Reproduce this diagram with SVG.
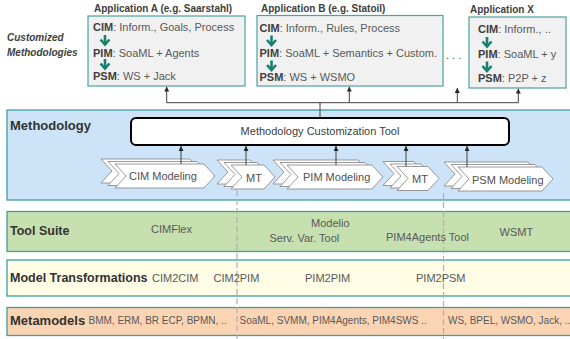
<svg xmlns="http://www.w3.org/2000/svg" width="570" height="339" viewBox="0 0 570 339">
  <style>
    text { font-family: "Liberation Sans", Arial, sans-serif; }
    .band { stroke: #3f9ea2; stroke-width: 1.3; }
    .app { fill: #f1f1f1; stroke: #4aa2a2; stroke-width: 1.2; }
    .apptitle { font-size: 10px; font-weight: bold; fill: #404040; }
    .line { font-size: 11px; fill: #595959; }
    .line tspan.k { font-weight: bold; fill: #404040; }
    .layer { font-weight: bold; fill: #333333; }
    .item { font-size: 11px; fill: #595959; }
    .meta { font-size: 10px; fill: #595959; }
    .chev { fill: #ffffff; stroke: #808080; stroke-width: 0.8; }
    .chevtxt { font-size: 11px; fill: #505050; }
    .conn { fill: none; stroke: #404040; stroke-width: 1; }
    .divider { stroke: #b0b0b0; stroke-width: 1.2; stroke-dasharray: 6 3; }
  </style>
  <defs>
    <marker id="tip" viewBox="0 0 10 10" refX="10" refY="5" markerUnits="userSpaceOnUse" markerWidth="5" markerHeight="5" orient="auto">
      <path d="M0,0 L10,5 L0,10 z" fill="#262626"/>
    </marker>
    <!-- refinement arrow between CIM / PIM / PSM -->
    <g id="down" fill="none" stroke="#17806f" stroke-width="2.6">
      <path d="M0,0 V9.5"/>
      <path d="M-4.5,4.5 L0,9.5 L4.5,4.5"/>
    </g>
    <!-- chevron outlines, front layer of each stack -->
    <polygon id="chevCIM" class="chev" points="115,164 204,164 215,176 204,188 115,188 126,176"/>
    <polygon id="chevMT1" class="chev" points="231,165 264,165 275,177 264,189 231,189 242,177"/>
    <polygon id="chevPIM" class="chev" points="287,165 372,165 383,177 372,189 287,189 298,177"/>
    <polygon id="chevMT2" class="chev" points="397,166.5 428,166.5 439,178.5 428,190.5 397,190.5 408,178.5"/>
    <polygon id="chevPSM" class="chev" points="458,167 542,167 553,179 542,191 458,191 469,179"/>
  </defs>

  <rect width="570" height="339" fill="#ffffff"/>

  <!-- horizontal layers -->
  <g id="layers">
    <rect class="band" x="7" y="110" width="566" height="90" fill="#cde4f8"/>
    <rect class="band" x="7" y="211.5" width="566" height="40" fill="#c6e0b0"/>
    <rect class="band" x="7" y="260" width="566" height="36" fill="#fffde6"/>
    <rect class="band" x="7" y="307.5" width="566" height="28" fill="#fbd4b4"/>
    <text class="layer" x="10" y="130" font-size="13">Methodology</text>
    <text class="layer" x="10" y="235" font-size="12.5">Tool Suite</text>
    <text class="layer" x="10" y="281.5" font-size="12.5">Model Transformations</text>
    <text class="layer" x="10" y="325" font-size="13">Metamodels</text>
  </g>

  <!-- phase boundaries -->
  <g id="dividers">
    <line class="divider" x1="237" y1="190" x2="237" y2="339"/>
    <line class="divider" x1="443.5" y1="193" x2="443.5" y2="339"/>
  </g>

  <text x="7" y="40.5" font-size="10" font-weight="bold" font-style="italic" fill="#404040">Customized</text>
  <text x="7" y="55.5" font-size="10" font-weight="bold" font-style="italic" fill="#404040">Methodologies</text>

  <g id="appA">
    <text class="apptitle" x="94" y="12">Application A (e.g. Saarstahl)</text>
    <rect class="app" x="88" y="16" width="157" height="70"/>
    <text class="line" x="93" y="30.5"><tspan class="k">CIM</tspan>: Inform., Goals, Process</text>
    <use href="#down" x="105" y="35"/>
    <text class="line" x="93" y="56.5"><tspan class="k">PIM</tspan>: SoaML + Agents</text>
    <use href="#down" x="105" y="59"/>
    <text class="line" x="93" y="80"><tspan class="k">PSM</tspan>: WS + Jack</text>
  </g>

  <g id="appB">
    <text class="apptitle" x="261" y="11.5">Application B (e.g. Statoil)</text>
    <rect class="app" x="257" y="15.5" width="186" height="70.5"/>
    <text class="line" x="259.5" y="31.5"><tspan class="k">CIM</tspan>: Inform., Rules, Process</text>
    <use href="#down" x="271.5" y="35.5"/>
    <text class="line" x="259.5" y="57"><tspan class="k">PIM</tspan>: SoaML + Semantics + Custom.</text>
    <use href="#down" x="271.5" y="60.5"/>
    <text class="line" x="259.5" y="81"><tspan class="k">PSM</tspan>: WS + WSMO</text>
  </g>

  <text x="446" y="59" font-size="11" fill="#404040">. . .</text>

  <g id="appX">
    <text class="apptitle" x="470" y="13">Application X</text>
    <rect class="app" x="469" y="17" width="97" height="71"/>
    <text class="line" x="478" y="33"><tspan class="k">CIM</tspan>: Inform.,  ..</text>
    <use href="#down" x="487" y="37"/>
    <text class="line" x="478" y="58"><tspan class="k">PIM</tspan>: SoaML + y</text>
    <use href="#down" x="487" y="61.5"/>
    <text class="line" x="478" y="81.5"><tspan class="k">PSM</tspan>: P2P + z</text>
  </g>

  <g id="customizationTool">
    <rect x="131" y="118" width="378" height="27" rx="5" fill="#ffffff" stroke="#000000" stroke-width="2"/>
    <text x="320" y="135" font-size="11" fill="#404040" text-anchor="middle">Methodology Customization Tool</text>
  </g>

  <g id="cimModeling">
    <use href="#chevCIM" x="-14" y="-5"/>
    <use href="#chevCIM" x="-7" y="-2.5"/>
    <use href="#chevCIM"/>
    <text class="chevtxt" x="129" y="180">CIM Modeling</text>
  </g>
  <g id="mtCimPim">
    <use href="#chevMT1" x="-14" y="-5"/>
    <use href="#chevMT1" x="-7" y="-2.5"/>
    <use href="#chevMT1"/>
    <text class="chevtxt" x="246" y="181.5">MT</text>
  </g>
  <g id="pimModeling">
    <use href="#chevPIM" x="-14" y="-5"/>
    <use href="#chevPIM" x="-7" y="-2.5"/>
    <use href="#chevPIM"/>
    <text class="chevtxt" x="303" y="181">PIM Modeling</text>
  </g>
  <g id="mtPimPsm">
    <use href="#chevMT2" x="-14" y="-5"/>
    <use href="#chevMT2" x="-7" y="-2.5"/>
    <use href="#chevMT2"/>
    <text class="chevtxt" x="412" y="183">MT</text>
  </g>
  <g id="psmModeling">
    <use href="#chevPSM" x="-14" y="-5"/>
    <use href="#chevPSM" x="-7" y="-2.5"/>
    <use href="#chevPSM"/>
    <text class="chevtxt" x="472" y="183.5">PSM Modeling</text>
  </g>

  <g id="toolSuite">
    <text class="item" x="151" y="233">CIMFlex</text>
    <text class="item" x="311" y="226.5">Modelio</text>
    <text class="item" x="269.5" y="241.5">Serv. Var. Tool</text>
    <text class="item" x="386" y="240.5">PIM4Agents Tool</text>
    <text class="item" x="499.5" y="236">WSMT</text>
  </g>

  <g id="transformations">
    <text class="item" x="152" y="282">CIM2CIM</text>
    <text class="item" x="213.5" y="282">CIM2PIM</text>
    <text class="item" x="305" y="282">PIM2PIM</text>
    <text class="item" x="416" y="282">PIM2PSM</text>
  </g>

  <g id="metamodels">
    <text class="meta" x="88.5" y="324">BMM, ERM, BR ECP, BPMN, ..</text>
    <text class="meta" x="239.5" y="324">SoaML, SVMM, PIM4Agents, PIM4SWS ..</text>
    <text class="meta" x="448" y="324">WS, BPEL, WSMO, Jack, ..</text>
  </g>

  <g id="connectors">
    <path class="conn" d="M320,118 V102.7 M166.7,102.7 H518.3"/>
    <path class="conn" d="M166.7,102.7 V86.6" marker-end="url(#tip)"/>
    <path class="conn" d="M349.3,102.7 V86.6" marker-end="url(#tip)"/>
    <path class="conn" d="M457.3,102.7 V88" marker-end="url(#tip)"/>
    <path class="conn" d="M518.3,102.7 V88.6" marker-end="url(#tip)"/>
    <path class="conn" d="M181,164 V146" marker-end="url(#tip)"/>
    <path class="conn" d="M246,165 V146" marker-end="url(#tip)"/>
    <path class="conn" d="M336,165 V146" marker-end="url(#tip)"/>
    <path class="conn" d="M406,166.5 V146" marker-end="url(#tip)"/>
    <path class="conn" d="M467,167 V146" marker-end="url(#tip)"/>
  </g>
</svg>
